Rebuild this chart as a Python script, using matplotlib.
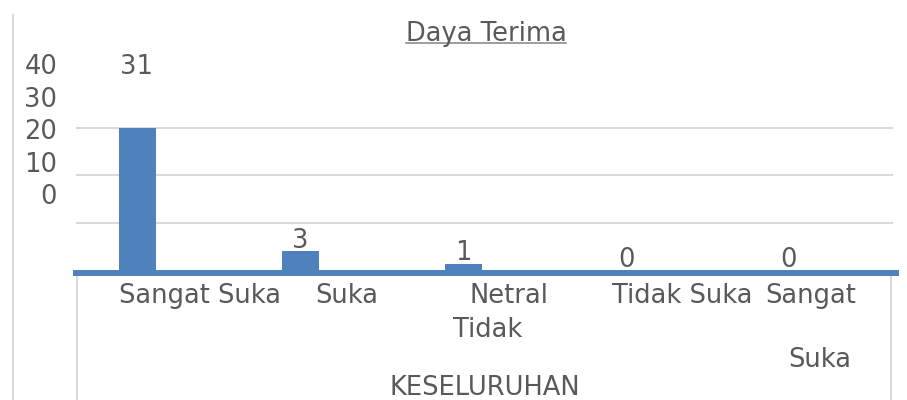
import numpy as np
import matplotlib
matplotlib.use("Agg")
import matplotlib.pyplot as plt
from matplotlib.lines import Line2D

# data
categories = ["Sangat Suka", "Suka", "Netral", "Tidak Suka", "Sangat Tidak Suka"]
values = [31, 3, 1, 0, 0]
ytick_values = [0, 10, 20, 30, 40]
title = "Daya Terima"
axis_title = "KESELURUHAN"

W, H = 907, 400
TXT = "#595959"
GRID = "#d9d9d9"
BLUE = "#4F81BD"
FS = 18.5


def fx(px):
    return px / W


def fy(py):
    return 1 - py / H


fig = plt.figure(figsize=(W / 100, H / 100), dpi=100)

# plot area (pixels 77..892 horizontally, 128..270 vertically)
px_per_unit = 6.2
ytop = (270 - 128) / px_per_unit
ax = fig.add_axes([fx(77), fy(270), (892 - 77) / W, (270 - 128) / H])
x = np.arange(len(values))
step = 163.0
ax.set_xlim((77 - 137) / step, (892 - 137) / step)
ax.set_ylim(0, ytop)
ax.bar(x, values, width=37 / step, color=BLUE, zorder=2)
ax.set_yticks([ytop / 3, 2 * ytop / 3, ytop])
ax.grid(axis="y", color=GRID, lw=1.5, zorder=0)
for gl in ax.get_ygridlines():
    gl.set_clip_on(False)
ax.tick_params(left=False, bottom=False, labelleft=False, labelbottom=False)
for s in ax.spines.values():
    s.set_visible(False)

for xi, v in zip(x, values):
    ax.annotate(str(v), (xi, v), xytext=(0, 2.5), textcoords="offset points",
                ha="center", va="baseline", fontsize=FS, color=TXT,
                annotation_clip=False)

# stray value axis labels on the left
ax2 = fig.add_axes([fx(60), fy(194), 0.0001, (194 - 64.5) / H])
ax2.set_ylim(0, 40)
ax2.set_yticks(ytick_values)
ax2.set_yticklabels([str(t) for t in ytick_values])
ax2.tick_params(axis="y", length=0, pad=2, labelsize=FS, labelcolor=TXT)
ax2.set_xticks([])
for s in ax2.spines.values():
    s.set_visible(False)
ax2.patch.set_visible(False)

# chrome lines
fig.add_artist(Line2D([fx(13), fx(13)], [fy(15), fy(400)], color=GRID, lw=1.5))
fig.add_artist(Line2D([fx(77), fx(77)], [fy(273), fy(400)], color=GRID, lw=1.5))
fig.add_artist(Line2D([fx(891), fx(891)], [fy(273), fy(400)], color=GRID, lw=1.5))
fig.add_artist(Line2D([fx(76), fx(896)], [fy(273), fy(273)], color=BLUE, lw=4.3))

# category labels, wrapped the way the source renders them
c0 = categories[0]
c1 = categories[1]
c2 = categories[2]
c3 = categories[3]
c4 = categories[4].split()
label_bits = [
    (c0, 200, 303),
    (c1, 347, 303),
    (c2, 509, 303),
    (c4[1], 488, 337),
    (c3, 682, 303),
    (c4[0], 811, 303),
    (c4[2], 820, 367),
]
for txt, px, py in label_bits:
    fig.text(fx(px), fy(py), txt, ha="center", va="baseline", fontsize=FS, color=TXT)

fig.text(fx(485), fy(395), axis_title, ha="center", va="baseline", fontsize=FS, color=TXT)

t = fig.text(fx(486), fy(41), title, ha="center", va="baseline", fontsize=FS, color=TXT)
fig.canvas.draw()
bb = t.get_window_extent().transformed(fig.transFigure.inverted())
fig.add_artist(Line2D([bb.x0, bb.x1], [fy(43), fy(43)], color="#8c8c8c", lw=1.2))

fig.savefig("out.png", dpi=100)
